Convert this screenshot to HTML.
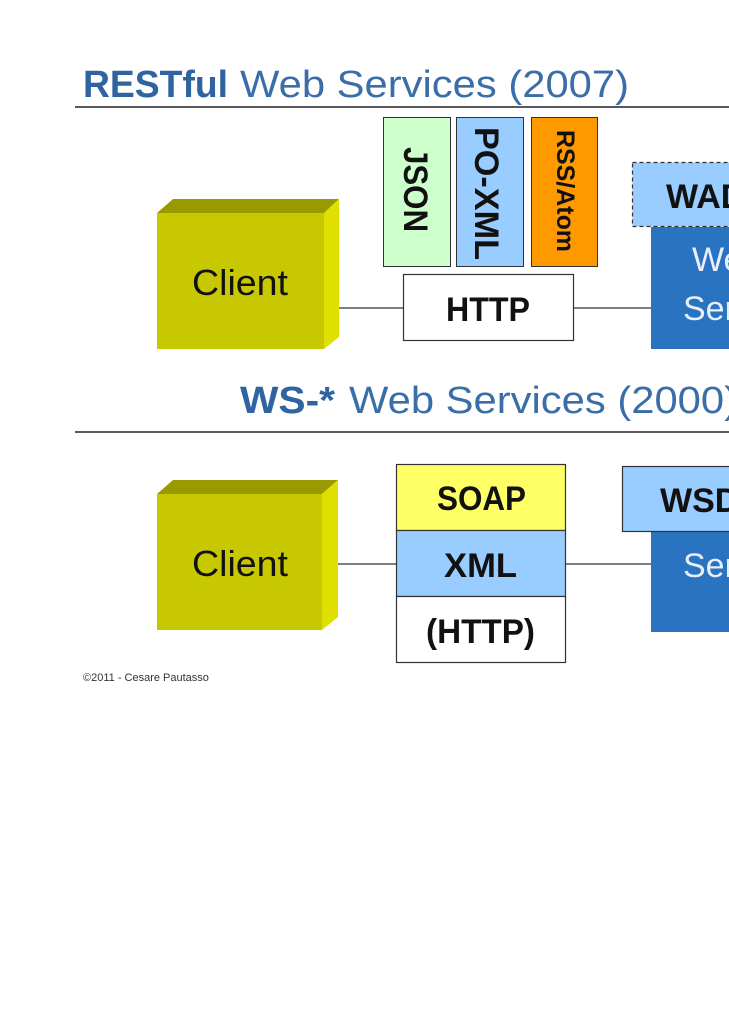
<!DOCTYPE html>
<html><head><meta charset="utf-8"><style>
html,body{margin:0;padding:0;background:#fff;}
svg{display:block;}
</style></head><body>
<svg width="729" height="1030" viewBox="0 0 729 1030" xmlns="http://www.w3.org/2000/svg" font-family="Liberation Sans, sans-serif">
<!-- Top title -->
<text x="83" y="97" font-size="38" fill="#2f64a0" font-weight="bold" textLength="145" lengthAdjust="spacingAndGlyphs">RESTful</text>
<text x="240" y="97" font-size="38" fill="#3a6ea8" textLength="389" lengthAdjust="spacingAndGlyphs">Web Services (2007)</text>
<line x1="75" y1="107" x2="729" y2="107" stroke="#222" stroke-width="1.5"/>

<!-- connectors top -->
<line x1="339" y1="308" x2="403" y2="308" stroke="#333" stroke-width="1.2"/>
<line x1="574" y1="308" x2="652" y2="308" stroke="#333" stroke-width="1.2"/>

<!-- Client top -->
<polygon points="157,213 173,199 339,199 324,213" fill="#999900"/>
<polygon points="324,213 339,199 339,337 324,349" fill="#e0e000"/>
<rect x="157" y="213" width="167" height="136" fill="#c8c800"/>
<text x="192" y="295" font-size="36" fill="#111" textLength="96" lengthAdjust="spacingAndGlyphs">Client</text>

<!-- format boxes -->
<rect x="383.5" y="117.5" width="67" height="149" fill="#ccffcc" stroke="#333" stroke-width="1"/>
<rect x="456.5" y="117.5" width="67" height="149" fill="#99ccff" stroke="#333" stroke-width="1"/>
<rect x="531.5" y="117.5" width="66" height="149" fill="#ff9900" stroke="#333" stroke-width="1"/>
<text transform="translate(404,147) rotate(90)" font-size="34" font-weight="bold" fill="#111" textLength="85" lengthAdjust="spacingAndGlyphs">JSON</text>
<text transform="translate(475,127) rotate(90)" font-size="34" font-weight="bold" fill="#111" textLength="133" lengthAdjust="spacingAndGlyphs">PO-XML</text>
<text transform="translate(557,130) rotate(90)" font-size="25" font-weight="bold" fill="#111" textLength="122" lengthAdjust="spacingAndGlyphs">RSS/Atom</text>

<!-- HTTP -->
<rect x="403.5" y="274.5" width="170" height="66" fill="#fff" stroke="#333" stroke-width="1.2"/>
<text x="446" y="321" font-size="34" font-weight="bold" fill="#111" textLength="84" lengthAdjust="spacingAndGlyphs">HTTP</text>

<!-- WADL / Web Service -->
<rect x="651" y="227" width="90" height="122" fill="#2a73c0"/>
<rect x="632.5" y="162.5" width="110" height="64" fill="#99ccff" stroke="#333" stroke-width="1.2" stroke-dasharray="4,3"/>
<text x="666" y="208" font-size="34" font-weight="bold" fill="#111">WADL</text>
<text x="692" y="271" font-size="34" fill="#e8eefa">Web</text>
<text x="683" y="320" font-size="34" fill="#e8eefa">Service</text>

<!-- Bottom title -->
<text x="240" y="413" font-size="38" fill="#2f64a0" font-weight="bold" textLength="95" lengthAdjust="spacingAndGlyphs">WS-*</text>
<text x="349" y="413" font-size="38" fill="#3a6ea8" textLength="389" lengthAdjust="spacingAndGlyphs">Web Services (2000)</text>
<line x1="75" y1="432" x2="729" y2="432" stroke="#222" stroke-width="1.5"/>

<!-- connectors bottom -->
<line x1="322" y1="564" x2="396" y2="564" stroke="#333" stroke-width="1.2"/>
<line x1="566" y1="564" x2="652" y2="564" stroke="#333" stroke-width="1.2"/>

<!-- Client bottom -->
<polygon points="157,494 173,480 338,480 322,494" fill="#999900"/>
<polygon points="322,494 338,480 338,617 322,630" fill="#e0e000"/>
<rect x="157" y="494" width="165" height="136" fill="#c8c800"/>
<text x="192" y="576" font-size="36" fill="#111" textLength="96" lengthAdjust="spacingAndGlyphs">Client</text>

<!-- stack -->
<rect x="396.5" y="464.5" width="169" height="66" fill="#ffff66" stroke="#333" stroke-width="1.2"/>
<rect x="396.5" y="530.5" width="169" height="66" fill="#99ccff" stroke="#333" stroke-width="1.2"/>
<rect x="396.5" y="596.5" width="169" height="66" fill="#fff" stroke="#333" stroke-width="1.2"/>
<text x="437" y="510" font-size="34" font-weight="bold" fill="#111" textLength="89" lengthAdjust="spacingAndGlyphs">SOAP</text>
<text x="444" y="577" font-size="34" font-weight="bold" fill="#111" textLength="73" lengthAdjust="spacingAndGlyphs">XML</text>
<text x="426" y="643" font-size="34" font-weight="bold" fill="#111" textLength="109" lengthAdjust="spacingAndGlyphs">(HTTP)</text>

<!-- WSDL / Service -->
<rect x="651" y="532" width="90" height="100" fill="#2a73c0"/>
<rect x="622.5" y="466.5" width="120" height="65" fill="#99ccff" stroke="#333" stroke-width="1.2"/>
<text x="660" y="512" font-size="34" font-weight="bold" fill="#111">WSDL</text>
<text x="683" y="577" font-size="34" fill="#e8eefa">Service</text>

<!-- footer -->
<text x="83" y="681" font-size="11" fill="#333">©2011 - Cesare Pautasso</text>
</svg>
</body></html>
